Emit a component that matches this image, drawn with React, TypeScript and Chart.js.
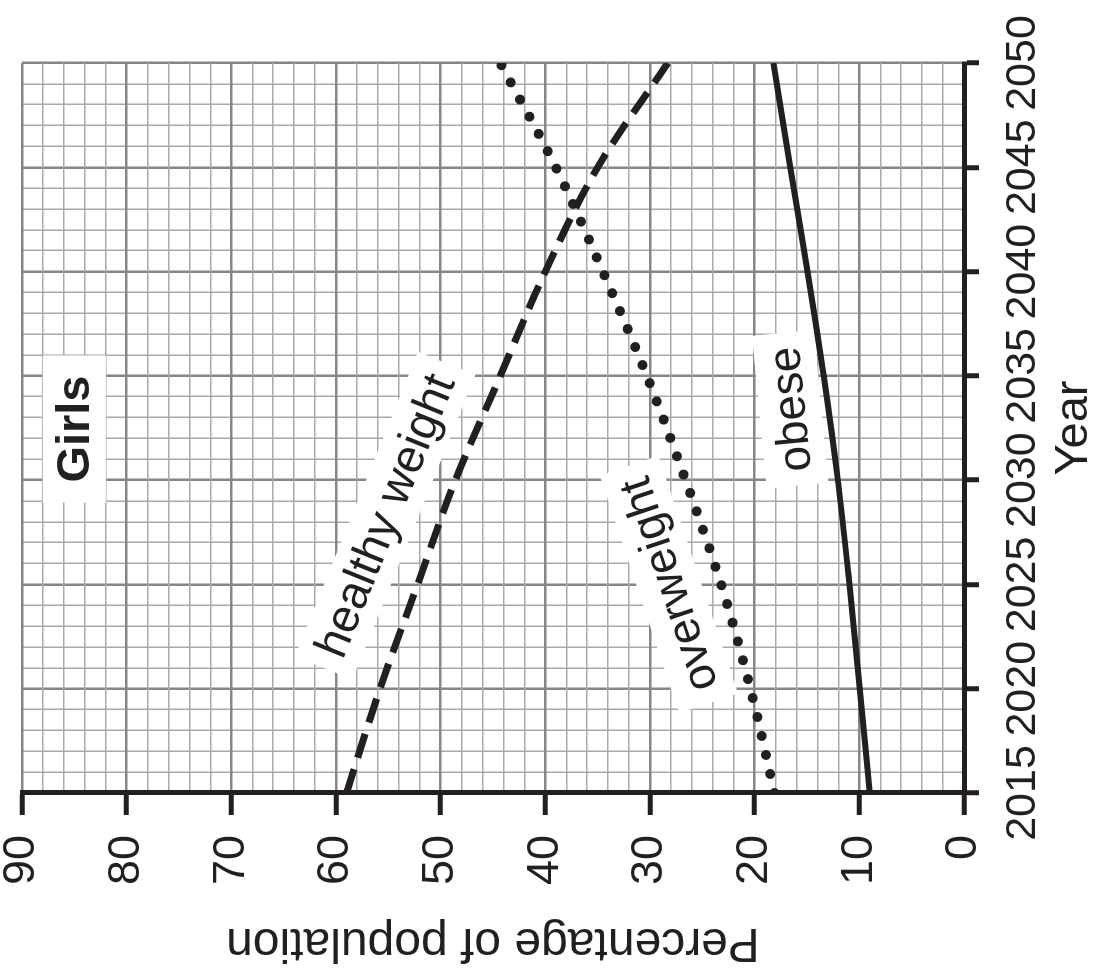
import React, { useEffect, useRef } from 'react';
import { Chart, registerables } from 'chart.js';

Chart.register(...registerables);

// ---------- data ----------
const years = [2015, 2020, 2025, 2030, 2035, 2040, 2045, 2050];
const healthyWeight = [59.0, 55.8, 52.2, 48.6, 44.3, 40.0, 35.0, 28.3];
const overweight = [18.1, 20.4, 23.2, 26.6, 30.3, 34.5, 39.0, 44.3];
const obese = [9.0, 9.95, 10.95, 12.05, 13.4, 14.95, 16.6, 18.2];

const yearMin = 2015;
const yearMax = 2050;
const yearMajorStep = 5;
const yearMinorStep = 1;
const pctMin = 0;
const pctMax = 90;
const pctMajorStep = 10;
const pctMinorStep = 2;

const xTitle = 'Year';
const yTitle = 'Percentage of population';

const noteTexts = ['Girls', 'healthy weight', 'overweight', 'obese'];
const noteYears = [2032.45, 2028.3, 2025.0, 2033.4];
const notePcts = [85.0, 55.3, 28.2, 16.6];

// ---------- styles ----------
const W = 971; // canvas width (before rotation)
const H = 1101; // canvas height (before rotation)
const VIEW_H = 971;
const FONT = "'Liberation Sans', Arial, Helvetica, sans-serif";
const INK = '#231f20';
const noteStyles = [
  { angle: 0, bold: true, size: 47, padX: 20, boxH: 63 },
  { angle: 22, bold: false, size: 47, padX: 14, boxH: 62 },
  { angle: -18.5, bold: false, size: 46, padX: 14, boxH: 62 },
  { angle: -5.5, bold: false, size: 46, padX: 14, boxH: 62 },
];

const toPoints = (vals: number[]) => years.map((x, i) => ({ x, y: vals[i] }));

const notesPlugin = {
  id: 'notes',
  beforeDatasetsDraw(chart: any) {
    const { ctx, scales } = chart;
    noteTexts.forEach((text, i) => {
      const st = noteStyles[i];
      const px = scales.x.getPixelForValue(noteYears[i]);
      const py = scales.y.getPixelForValue(notePcts[i]);
      ctx.save();
      ctx.translate(px, py);
      ctx.rotate((st.angle * Math.PI) / 180);
      ctx.font = `${st.bold ? 'bold ' : ''}${st.size}px ${FONT}`;
      const w = ctx.measureText(text).width;
      ctx.fillStyle = '#ffffff';
      ctx.fillRect(-w / 2 - st.padX, -st.boxH / 2, w + 2 * st.padX, st.boxH);
      ctx.fillStyle = INK;
      ctx.textAlign = 'center';
      ctx.textBaseline = 'middle';
      ctx.fillText(text, 0, 2);
      ctx.restore();
    });
  },
};

export default function App() {
  const ref = useRef<HTMLCanvasElement>(null);

  useEffect(() => {
    const isMajor = (v: number, step: number) => Math.abs(v % step) < 1e-6;
    const chart = new Chart(ref.current as HTMLCanvasElement, {
      type: 'line',
      data: {
        datasets: [
          {
            label: 'healthy weight',
            data: toPoints(healthyWeight),
            borderColor: INK,
            borderWidth: 7,
            borderDash: [25, 12],
            borderCapStyle: 'butt',
            pointRadius: 0,
            cubicInterpolationMode: 'monotone',
            fill: false,
          },
          {
            label: 'overweight',
            data: toPoints(overweight),
            borderColor: INK,
            borderWidth: 10,
            borderDash: [0, 19.5],
            borderCapStyle: 'round',
            pointRadius: 0,
            cubicInterpolationMode: 'monotone',
            fill: false,
          },
          {
            label: 'obese',
            data: toPoints(obese),
            borderColor: INK,
            borderWidth: 6,
            pointRadius: 0,
            cubicInterpolationMode: 'monotone',
            fill: false,
          },
        ],
      } as any,
      options: {
        animation: false,
        responsive: false,
        layout: { padding: { top: 22, right: 63, left: 0, bottom: 0 } },
        plugins: { legend: { display: false }, tooltip: { enabled: false } },
        scales: {
          x: {
            type: 'linear',
            position: 'bottom',
            min: yearMin,
            max: yearMax,
            afterFit: (s: any) => {
              s.height = 137;
              s.paddingLeft = 0;
              s.paddingRight = 0;
            },
            ticks: {
              stepSize: yearMinorStep,
              autoSkip: false,
              maxRotation: 0,
              minRotation: 0,
              maxTicksLimit: 200,
              padding: 18,
              color: INK,
              font: { family: FONT, size: 43, lineHeight: 1.2 },
              callback: (v: any) => (isMajor(Number(v), yearMajorStep) ? String(v) : ''),
            },
            grid: {
              color: (c: any) => (isMajor(c.tick.value, yearMajorStep) ? '#868686' : '#a9a9a9'),
              lineWidth: (c: any) => (isMajor(c.tick.value, yearMajorStep) ? 2.5 : 1.5),
              tickColor: (c: any) => (isMajor(c.tick.value, yearMajorStep) ? INK : 'rgba(0,0,0,0)'),
              tickWidth: 5,
              tickLength: 15,
              drawTicks: true,
            },
            border: { color: INK, width: 5 },
            title: {
              display: true,
              text: xTitle,
              color: INK,
              font: { family: FONT, size: 47, lineHeight: 1.0 },
              padding: { top: 0, bottom: 3 },
            },
          },
          y: {
            type: 'linear',
            position: 'left',
            min: pctMin,
            max: pctMax,
            afterFit: (s: any) => {
              s.width = 178;
              s.paddingTop = 0;
              s.paddingBottom = 0;
            },
            ticks: {
              stepSize: pctMinorStep,
              autoSkip: false,
              maxTicksLimit: 200,
              padding: 20,
              color: INK,
              font: { family: FONT, size: 45, lineHeight: 1.2 },
              callback: (v: any) => (isMajor(Number(v), pctMajorStep) ? String(v) : ''),
            },
            grid: {
              color: (c: any) => (isMajor(c.tick.value, pctMajorStep) ? '#868686' : '#a9a9a9'),
              lineWidth: (c: any) => (isMajor(c.tick.value, pctMajorStep) ? 2.5 : 1.5),
              tickColor: (c: any) => (isMajor(c.tick.value, pctMajorStep) ? INK : 'rgba(0,0,0,0)'),
              tickWidth: 5,
              tickLength: 22,
              drawTicks: true,
            },
            border: { color: INK, width: 5 },
            title: {
              display: true,
              text: yTitle,
              color: INK,
              font: { family: FONT, size: 48, lineHeight: 1.0 },
              padding: { top: 5, bottom: 0 },
            },
          },
        },
      } as any,
      plugins: [notesPlugin],
    });
    return () => chart.destroy();
  }, []);

  return (
    <div
      style={{
        position: 'fixed',
        left: 0,
        top: 0,
        width: W,
        height: H,
        background: '#ffffff',
        transformOrigin: '0 0',
        transform: `translate(0px, ${VIEW_H}px) rotate(-90deg)`,
      }}
    >
      <canvas ref={ref} width={W} height={H} style={{ display: 'block', width: W, height: H }} />
    </div>
  );
}
